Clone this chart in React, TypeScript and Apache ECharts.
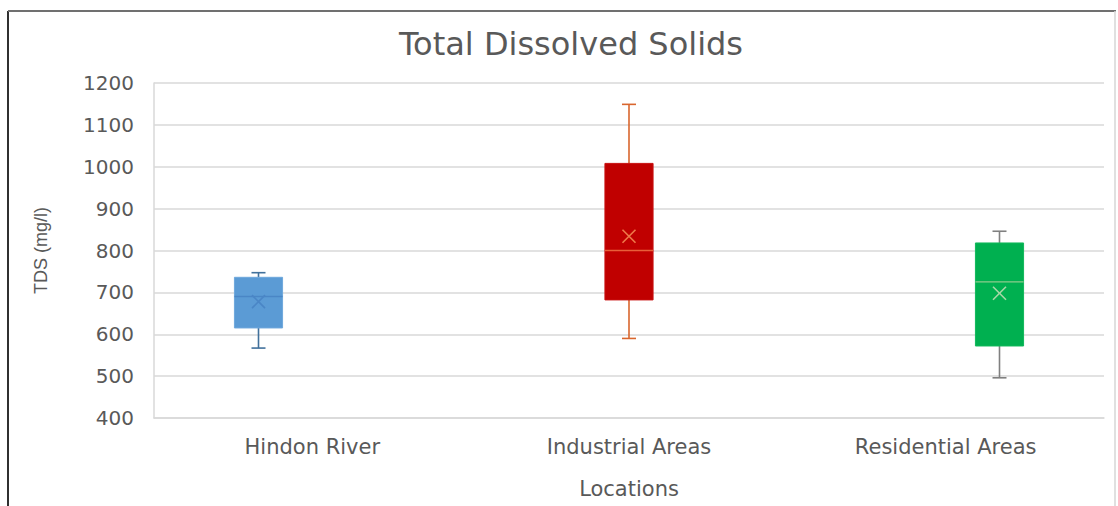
import React, { useEffect, useRef } from "react";
import * as echarts from "echarts";

// Box-and-whisker statistics of TDS (mg/l) per sampling location
const categories = ["Hindon River", "Industrial Areas", "Residential Areas"];
const minValues = [567, 590, 496];
const q1Values = [615, 682, 572];
const medianValues = [690, 800, 725];
const q3Values = [736, 1008, 818];
const maxValues = [747, 1149, 846];
const meanValues = [678, 834, 698];

// Value axis ticks
const yMin = 400;
const yMax = 1200;
const yInterval = 100;

// Per-location styling
const boxFill = ["#5B9BD5", "#C00000", "#00B050"];
const boxStroke = ["#6FA8DC", "#C81010", "#10B85A"];
const whiskerColor = ["#41719C", "#D9662E", "#808080"];
const medianColor = ["#4A86C6", "#E8603A", "#8CCB8C"];
const meanColor = ["#4A86C6", "#EE7A4A", "#A8D8A8"];
// Each location sits in its own series slot within the category band
const slotOffset = [-0.17, 0, 0.17];

const TEXT = "#595959";
const FONT = "DejaVu Sans";

export default function App() {
  const ref = useRef<HTMLDivElement>(null);

  useEffect(() => {
    if (!ref.current) return;
    const chart = echarts.init(ref.current, undefined, { renderer: "svg" });

    const data = categories.map((_, i) => [
      i,
      minValues[i],
      q1Values[i],
      medianValues[i],
      q3Values[i],
      maxValues[i],
      meanValues[i],
    ]);

    const renderItem = (params: any, api: any) => {
      const i = params.dataIndex;
      const cat = api.value(0);
      const band = api.size([1, 0])[0];
      const cx = api.coord([cat, yMin])[0] + slotOffset[i] * band;
      const py = (v: number) => api.coord([cat, v])[1];
      const half = band * 0.076;
      const cap = 7;
      const m = 6.5;
      const pMin = py(api.value(1));
      const pQ1 = py(api.value(2));
      const pMed = py(api.value(3));
      const pQ3 = py(api.value(4));
      const pMax = py(api.value(5));
      const pMean = py(api.value(6));
      const ws = { stroke: whiskerColor[i], lineWidth: 1.6 };
      return {
        type: "group",
        children: [
          { type: "line", shape: { x1: cx, y1: pMax, x2: cx, y2: pQ3 }, style: ws },
          { type: "line", shape: { x1: cx, y1: pQ1, x2: cx, y2: pMin }, style: ws },
          { type: "line", shape: { x1: cx - cap, y1: pMax, x2: cx + cap, y2: pMax }, style: ws },
          { type: "line", shape: { x1: cx - cap, y1: pMin, x2: cx + cap, y2: pMin }, style: ws },
          {
            type: "rect",
            shape: { x: cx - half, y: pQ3, width: half * 2, height: pQ1 - pQ3 },
            style: { fill: boxFill[i], stroke: boxStroke[i], lineWidth: 1 },
          },
          {
            type: "line",
            shape: { x1: cx - half, y1: pMed, x2: cx + half, y2: pMed },
            style: { stroke: medianColor[i], lineWidth: 1.4 },
          },
          {
            type: "line",
            shape: { x1: cx - m, y1: pMean - m, x2: cx + m, y2: pMean + m },
            style: { stroke: meanColor[i], lineWidth: 1.6 },
          },
          {
            type: "line",
            shape: { x1: cx - m, y1: pMean + m, x2: cx + m, y2: pMean - m },
            style: { stroke: meanColor[i], lineWidth: 1.6 },
          },
        ],
      };
    };

    chart.setOption({
      animation: false,
      backgroundColor: "#ffffff",
      title: {
        text: "Total Dissolved Solids",
        left: 566,
        top: 23,
        textAlign: "center",
        textStyle: { fontFamily: FONT, fontSize: 32, fontWeight: "normal", color: TEXT },
      },
      grid: { left: 154, right: 14, top: 83, bottom: 88 },
      xAxis: {
        type: "category",
        data: categories,
        boundaryGap: true,
        name: "Locations",
        nameLocation: "middle",
        nameGap: 60,
        nameTextStyle: { fontFamily: FONT, fontSize: 21, color: TEXT },
        axisLine: { show: true, lineStyle: { color: "#D9D9D9", width: 1.5 } },
        axisTick: { show: false },
        axisLabel: { fontFamily: FONT, fontSize: 21, color: TEXT, margin: 18 },
        splitLine: { show: false },
      },
      yAxis: {
        type: "value",
        min: yMin,
        max: yMax,
        interval: yInterval,
        name: "TDS (mg/l)",
        nameLocation: "middle",
        nameRotate: 90,
        nameGap: 104,
        nameTextStyle: { fontFamily: "Liberation Sans", fontSize: 18, color: TEXT },
        axisLine: { show: true, lineStyle: { color: "#D9D9D9", width: 1.5 } },
        axisTick: { show: false },
        axisLabel: {
          fontFamily: FONT,
          fontSize: 20,
          color: TEXT,
          margin: 20,
          formatter: (v: number) => String(v),
        },
        splitLine: { show: true, lineStyle: { color: "#D9D9D9", width: 1.5 } },
      },
      series: [
        {
          type: "custom",
          renderItem,
          data,
          encode: { x: 0, y: [1, 2, 3, 4, 5, 6] },
          clip: false,
        },
      ],
      graphic: [
        { type: "line", shape: { x1: 8, y1: 11, x2: 8, y2: 506 }, style: { stroke: "#303030", lineWidth: 2 } },
        { type: "line", shape: { x1: 8, y1: 11, x2: 1116, y2: 11 }, style: { stroke: "#707070", lineWidth: 2 } },
        { type: "line", shape: { x1: 1115, y1: 11, x2: 1115, y2: 506 }, style: { stroke: "#D6D6D6", lineWidth: 1.5 } },
      ],
    });

    return () => chart.dispose();
  }, []);

  return (
    <div
      ref={ref}
      style={{ position: "fixed", left: 0, top: 0, width: 1118, height: 506 }}
    />
  );
}
